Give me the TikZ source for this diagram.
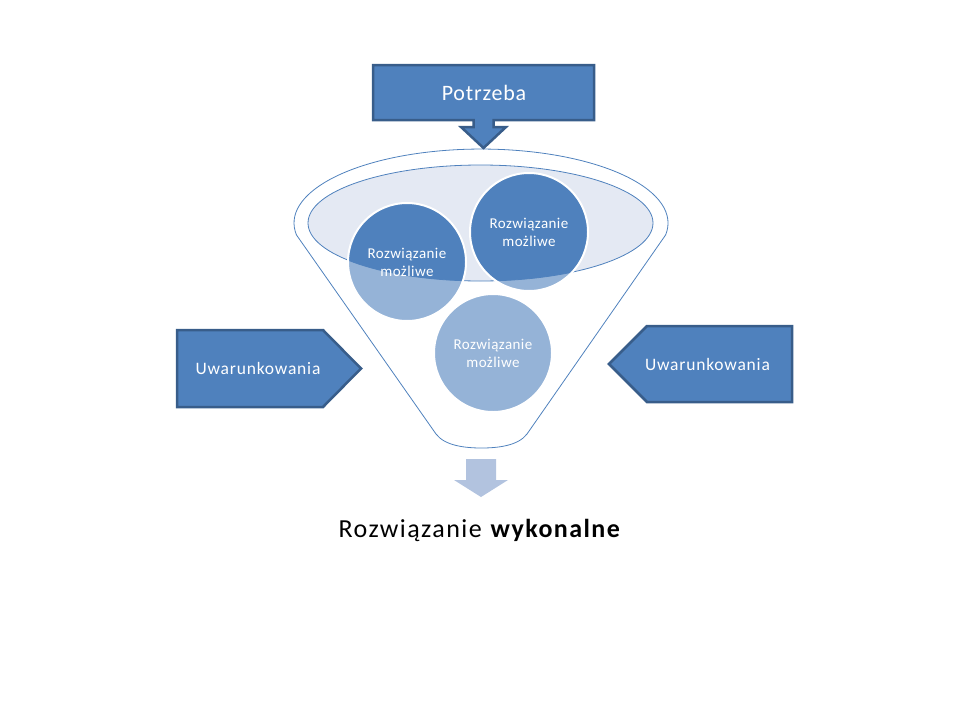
\documentclass[tikz,border=0pt]{standalone}
\usepackage{fontspec}
\setmainfont{Carlito}
\newfontfamily\needfont{Carlito}[LetterSpace=3.7]
\newfontfamily\condfont{Carlito}[LetterSpace=4.6]
\newfontfamily\solfont{Carlito}[LetterSpace=2.9]
\newfontfamily\resultfont{Carlito}[LetterSpace=5.5]
\usepackage{xcolor}
\definecolor{boxblue}{HTML}{4F81BD}
\definecolor{boxedge}{HTML}{385D8A}
\definecolor{paleblue}{HTML}{95B3D7}
\definecolor{bowlfill}{HTML}{E4E9F3}
\definecolor{outblue}{HTML}{B2C3DF}
\tikzset{
  callout/.style={fill=boxblue,draw=boxedge,line width=2.5pt,line join=miter},
  calltext/.style={text=white,font=\condfont\fontsize{17.5}{21}\selectfont},
  funnel/.style={draw=boxblue,line width=0.8pt},
  option/.style={circle,minimum size=118pt,inner sep=0pt,fill=paleblue,draw=white,
    line width=2pt,align=center,text=white,font=\solfont\fontsize{15}{18}\selectfont,
    path picture={
      \fill[boxblue] (bowl) ellipse [x radius=172.5pt,y radius=58pt];
      \draw[boxblue,line width=0.8pt] (bowl) ellipse [x radius=172.5pt,y radius=58pt];
    }},
}
\begin{document}
\begin{tikzpicture}[x=1pt,y=-1pt]
        \useasboundingbox (0,0) rectangle (960,720);
        % funnel
        \draw[funnel] (296.5,235) arc [start angle=189.3,end angle=-9.3,x radius=187pt,y radius=74pt]
          -- (527,434) .. controls (518,446) and (497,448) .. (481.5,448)
          .. controls (466,448) and (445,446) .. (436,434) -- cycle;
        \coordinate (bowl) at (480.5,223);
        \draw[funnel,fill=bowlfill] (bowl) ellipse [x radius=172.5pt,y radius=58pt];
        % need callout
        \draw[callout] (373,65) -- (594,65) -- (594,120) -- (493.5,120) -- (493.5,127) -- (506,127)
          -- (483.5,148) -- (461,127) -- (473.5,127) -- (473.5,120) -- (373,120) -- cycle;
        \node[text=white,font=\needfont\fontsize{22}{26}\selectfont] (need) at (484,93) {Potrzeba};
        % possible solutions
        \node[option] (sol1) at (407,262) {Rozwiązanie\\możliwe};
        \node[option] (sol2) at (529,232) {Rozwiązanie\\możliwe};
        \node[option] (sol3) at (493,353) {Rozwiązanie\\możliwe};
        % conditions
        \draw[callout] (177,330) -- (323,330) -- (361,368.5) -- (323,407) -- (177,407) -- cycle;
        \node[calltext] (condL) at (258,368) {Uwarunkowania};
        \draw[callout] (609,364) -- (647,326) -- (792,326) -- (792,402) -- (647,402) -- cycle;
        \node[calltext] (condR) at (707.5,364) {Uwarunkowania};
        % result
        \fill[outblue] (466,459) -- (496,459) -- (496,480) -- (508,480) -- (481,497) -- (454,480)
          -- (466,480) -- cycle;
        \node[font=\resultfont\fontsize{26}{30}\selectfont] (result) at (480,530) {Rozwiązanie \textbf{wykonalne}};
\end{tikzpicture}
\end{document}
